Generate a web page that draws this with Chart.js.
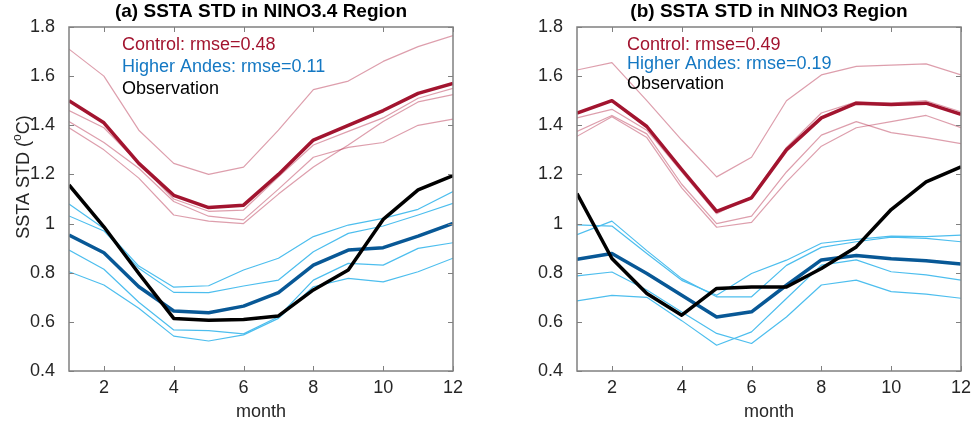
<!DOCTYPE html>
<html>
<head>
<meta charset="utf-8">
<script src="https://cdn.jsdelivr.net/npm/chart.js@4.4.1/dist/chart.umd.min.js"></script>
<style>
  body { margin: 0; background: #fff; }
  .panel { position: absolute; top: 0; width: 487px; height: 427px; }
</style>
</head>
<body>
<div class="panel" style="left:0"><canvas id="chartA"></canvas></div>
<div class="panel" style="left:487px"><canvas id="chartB"></canvas></div>
<script>
const months = [1, 2, 3, 4, 5, 6, 7, 8, 9, 10, 11, 12];
const xTicks = [2, 4, 6, 8, 10, 12];
const yTicks = [0.4, 0.6, 0.8, 1.0, 1.2, 1.4, 1.6, 1.8];

// (a) NINO3.4
const ctrlA   = [1.50, 1.41, 1.245, 1.115, 1.065, 1.075, 1.20, 1.34, 1.40, 1.46, 1.53, 1.57];
const ctrlA1  = [1.71, 1.60, 1.38, 1.245, 1.20, 1.23, 1.38, 1.545, 1.58, 1.66, 1.72, 1.765];
const ctrlA2  = [1.46, 1.39, 1.245, 1.10, 1.05, 1.055, 1.19, 1.32, 1.375, 1.43, 1.51, 1.55];
const ctrlA3  = [1.415, 1.33, 1.225, 1.09, 1.03, 1.015, 1.14, 1.27, 1.31, 1.33, 1.40, 1.425];
const ctrlA4  = [1.39, 1.30, 1.185, 1.035, 1.01, 1.00, 1.12, 1.23, 1.32, 1.415, 1.495, 1.525];
const andesA  = [0.953, 0.881, 0.743, 0.644, 0.637, 0.664, 0.719, 0.831, 0.892, 0.902, 0.949, 1.001];
const andesA1 = [1.08, 0.98, 0.827, 0.741, 0.747, 0.811, 0.859, 0.947, 0.994, 1.021, 1.058, 1.13];
const andesA2 = [1.031, 0.97, 0.818, 0.72, 0.719, 0.746, 0.77, 0.885, 0.96, 0.99, 1.035, 1.082];
const andesA3 = [0.892, 0.814, 0.68, 0.567, 0.564, 0.551, 0.621, 0.77, 0.838, 0.831, 0.899, 0.922];
const andesA4 = [0.804, 0.75, 0.655, 0.542, 0.522, 0.547, 0.614, 0.743, 0.777, 0.763, 0.804, 0.859];
const obsA    = [1.157, 0.987, 0.797, 0.614, 0.607, 0.61, 0.624, 0.73, 0.811, 1.017, 1.137, 1.195];

// (b) NINO3
const ctrlB   = [1.45, 1.50, 1.395, 1.22, 1.05, 1.105, 1.30, 1.43, 1.49, 1.485, 1.49, 1.445];
const ctrlB1  = [1.625, 1.655, 1.50, 1.34, 1.19, 1.27, 1.50, 1.605, 1.64, 1.645, 1.65, 1.605];
const ctrlB2  = [1.43, 1.465, 1.38, 1.21, 1.04, 1.11, 1.31, 1.45, 1.495, 1.49, 1.50, 1.455];
const ctrlB3  = [1.375, 1.44, 1.365, 1.16, 1.00, 1.03, 1.21, 1.36, 1.415, 1.37, 1.35, 1.325];
const ctrlB4  = [1.355, 1.435, 1.35, 1.145, 0.985, 1.005, 1.17, 1.315, 1.39, 1.415, 1.44, 1.39];
const andesB  = [0.855, 0.878, 0.797, 0.708, 0.62, 0.641, 0.749, 0.852, 0.87, 0.857, 0.849, 0.835];
const andesB1 = [0.995, 0.99, 0.878, 0.769, 0.708, 0.797, 0.851, 0.92, 0.936, 0.949, 0.947, 0.953];
const andesB2 = [0.955, 1.01, 0.89, 0.776, 0.702, 0.702, 0.83, 0.903, 0.926, 0.945, 0.94, 0.926];
const andesB3 = [0.787, 0.803, 0.73, 0.64, 0.553, 0.512, 0.62, 0.75, 0.77, 0.723, 0.713, 0.696];
const andesB4 = [0.685, 0.708, 0.70, 0.605, 0.505, 0.559, 0.695, 0.831, 0.852, 0.804, 0.791, 0.77];
const obsB    = [1.122, 0.858, 0.715, 0.627, 0.736, 0.742, 0.742, 0.817, 0.905, 1.057, 1.17, 1.231];

const FONT = '"Liberation Sans", Arial, Helvetica, sans-serif';
const RED = 'rgb(162,20,47)';
const RED_THIN = 'rgba(180,40,70,0.45)';
const BLUE = 'rgb(8,88,150)';
const BLUE_THIN = 'rgb(77,190,238)';
const BLUE_TEXT = 'rgb(20,120,195)';
const AXIS = '#808080';
const TEXT = '#262626';

function lineSet(vals, color, width) {
  return {
    data: months.map((m, i) => ({ x: m, y: vals[i] })),
    borderColor: color, borderWidth: width,
    pointRadius: 0, fill: false, tension: 0,
    borderJoinStyle: 'round'
  };
}

// box, inward ticks, title, text legend, y label
const panelPlugin = {
  id: 'panel',
  afterDraw(chart, args, o) {
    const { ctx, chartArea: a, scales: { x, y } } = chart;
    ctx.save();
    ctx.strokeStyle = AXIS;
    ctx.lineWidth = 1;
    ctx.beginPath();
    xTicks.forEach(v => {
      const px = Math.round(x.getPixelForValue(v)) + 0.5;
      ctx.moveTo(px, a.bottom); ctx.lineTo(px, a.bottom - 5);
      ctx.moveTo(px, a.top); ctx.lineTo(px, a.top + 5);
    });
    yTicks.forEach(v => {
      const py = Math.round(y.getPixelForValue(v)) + 0.5;
      ctx.moveTo(a.left, py); ctx.lineTo(a.left + 5, py);
      ctx.moveTo(a.right, py); ctx.lineTo(a.right - 5, py);
    });
    ctx.stroke();
    ctx.lineWidth = 1.5;
    ctx.strokeRect(a.left, a.top, a.right - a.left, a.bottom - a.top);

    ctx.fillStyle = '#000';
    ctx.font = 'bold 19px ' + FONT;
    ctx.textAlign = 'center';
    ctx.textBaseline = 'middle';
    ctx.fillText(o.title, (a.left + a.right) / 2, 12);

    ctx.font = '18px ' + FONT;
    ctx.textAlign = 'left';
    ctx.textBaseline = 'alphabetic';
    const colors = [RED, BLUE_TEXT, '#000'];
    o.legend.forEach((t, i) => {
      ctx.fillStyle = colors[i];
      ctx.fillText(t, o.legendX, o.legendY[i]);
    });

    if (o.ylabel) {
      ctx.translate(24, 177);
      ctx.rotate(-Math.PI / 2);
      ctx.fillStyle = TEXT;
      const p1 = 'SSTA STD (', p2 = 'o', p3 = 'C)';
      ctx.font = '18px ' + FONT;
      const w1 = ctx.measureText(p1).width, w3 = ctx.measureText(p3).width;
      ctx.font = '12px ' + FONT;
      const w2 = ctx.measureText(p2).width;
      const start = -(w1 + w2 + w3) / 2;
      ctx.textBaseline = 'middle';
      ctx.font = '18px ' + FONT;
      ctx.fillText(p1, start, 0);
      ctx.font = '12px ' + FONT;
      ctx.fillText(p2, start + w1, -6);
      ctx.font = '18px ' + FONT;
      ctx.fillText(p3, start + w1 + w2, 0);
    }
    ctx.restore();
  }
};

function makeChart(id, sets, opts) {
  const [obs, ctrl, c1, c2, c3, c4, andes, a1, a2, a3, a4] = sets;
  new Chart(document.getElementById(id), {
    type: 'line',
    data: {
      datasets: [
        lineSet(obs, '#000', 3.5),
        lineSet(andes, BLUE, 3.5),
        lineSet(ctrl, RED, 3.5),
        lineSet(a1, BLUE_THIN, 1.2), lineSet(a2, BLUE_THIN, 1.2),
        lineSet(a3, BLUE_THIN, 1.2), lineSet(a4, BLUE_THIN, 1.2),
        lineSet(c1, RED_THIN, 1.2), lineSet(c2, RED_THIN, 1.2),
        lineSet(c3, RED_THIN, 1.2), lineSet(c4, RED_THIN, 1.2)
      ]
    },
    options: {
      responsive: true,
      maintainAspectRatio: false,
      animation: false,
      layout: { padding: { top: 27, right: opts.padRight, bottom: 0, left: 0 } },
      scales: {
        x: {
          type: 'linear', min: 1, max: 12,
          afterBuildTicks: s => { s.ticks = xTicks.map(v => ({ value: v })); },
          afterFit: s => { s.height = 56; },
          grid: { display: false },
          border: { display: false },
          ticks: { font: { family: FONT, size: 18 }, color: TEXT, padding: -2, maxRotation: 0 },
          title: { display: true, text: 'month', font: { family: FONT, size: 18 }, color: TEXT, padding: { top: 0, bottom: 4 } }
        },
        y: {
          min: 0.4, max: 1.8,
          afterBuildTicks: s => { s.ticks = yTicks.map(v => ({ value: v })); },
          afterFit: s => { s.width = opts.axisWidth; },
          grid: { display: false },
          border: { display: false },
          ticks: {
            font: { family: FONT, size: 18 }, color: TEXT, padding: 6,
            callback: v => String(Number(v.toFixed(1)))
          }
        }
      },
      plugins: {
        legend: { display: false },
        tooltip: { enabled: false },
        panel: opts.panel
      }
    },
    plugins: [panelPlugin]
  });
}

makeChart('chartA',
  [obsA, ctrlA, ctrlA1, ctrlA2, ctrlA3, ctrlA4, andesA, andesA1, andesA2, andesA3, andesA4],
  {
    padRight: 34, axisWidth: 69,
    panel: {
      title: '(a) SSTA STD in NINO3.4 Region',
      legend: ['Control: rmse=0.48', 'Higher Andes: rmse=0.11', 'Observation'],
      legendX: 122, legendY: [50, 72, 93.5], ylabel: true
    }
  });

makeChart('chartB',
  [obsB, ctrlB, ctrlB1, ctrlB2, ctrlB3, ctrlB4, andesB, andesB1, andesB2, andesB3, andesB4],
  {
    padRight: 13, axisWidth: 90,
    panel: {
      title: '(b) SSTA STD in NINO3 Region',
      legend: ['Control: rmse=0.49', 'Higher Andes: rmse=0.19', 'Observation'],
      legendX: 140, legendY: [49.5, 68.5, 88.5], ylabel: false
    }
  });
</script>
</body>
</html>
